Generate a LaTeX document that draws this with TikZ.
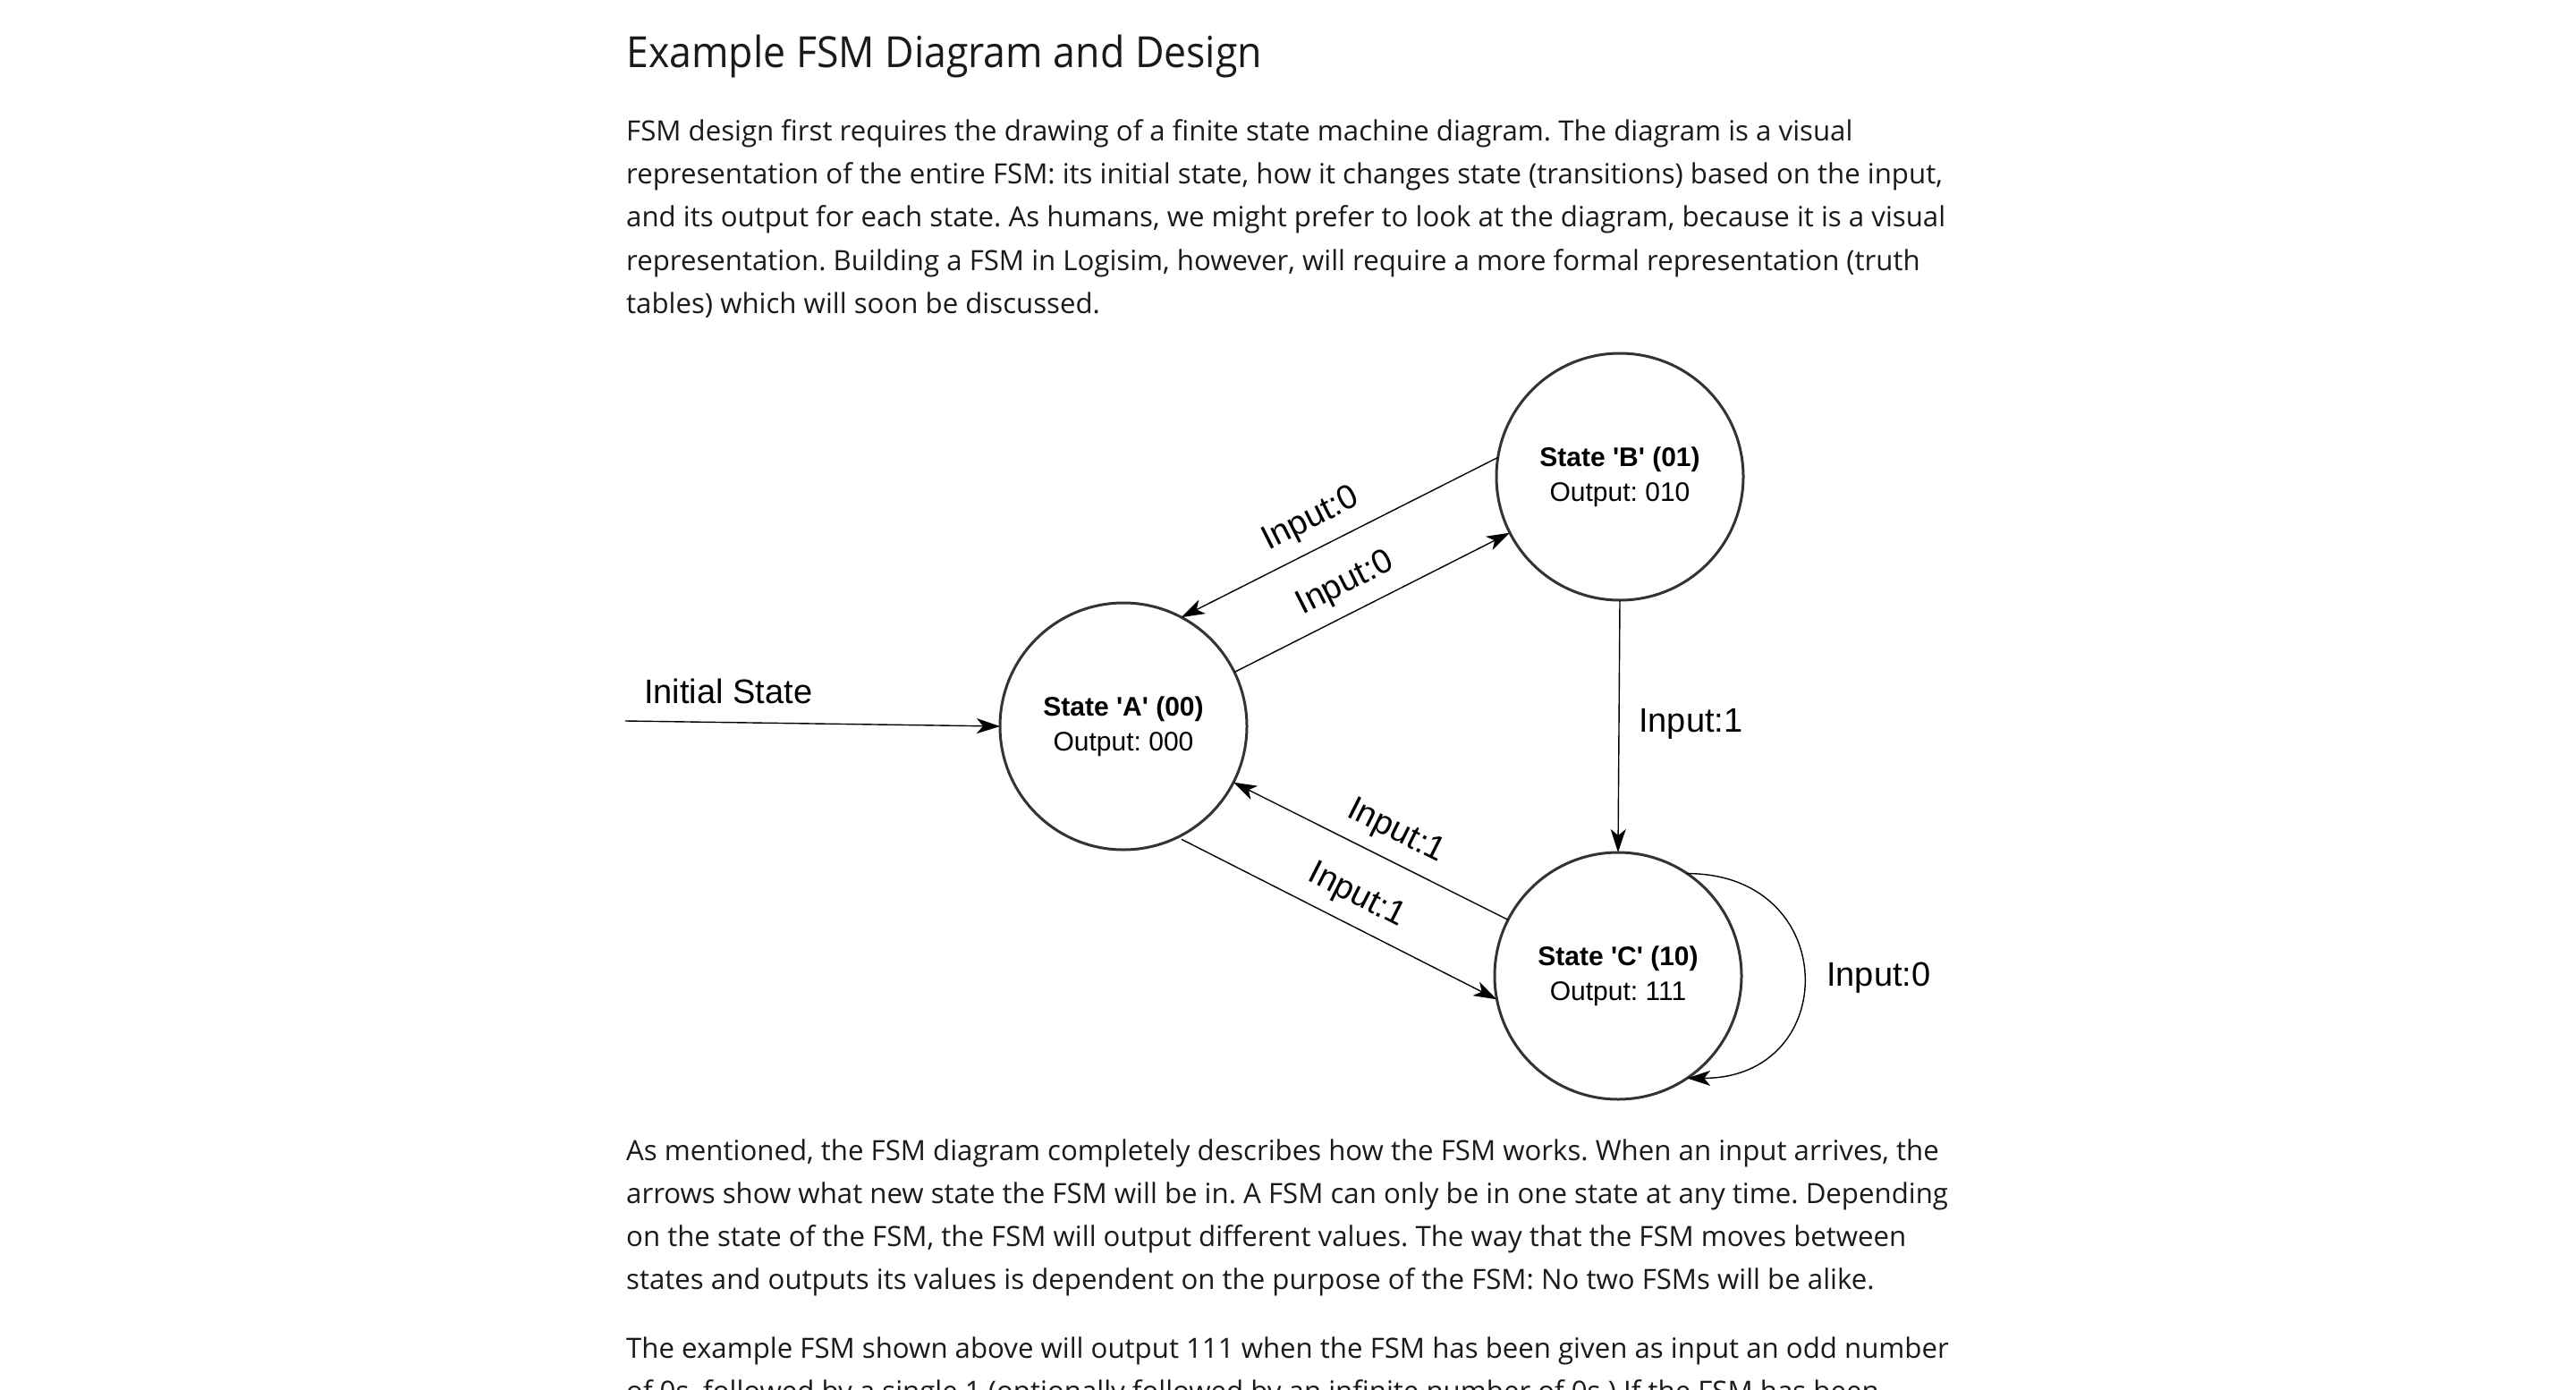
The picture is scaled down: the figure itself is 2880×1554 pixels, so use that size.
\documentclass[tikz,border=0pt]{standalone}
\usepackage{fontspec}
\setmainfont{Open Sans}
\newfontfamily\titlefont[FakeStretch=0.93]{Open Sans}
\newfontfamily\diafont[Ligatures=TeXOff]{Liberation Sans}
\usetikzlibrary{arrows.meta,calc}
\definecolor{txt}{HTML}{1A1A1A}
\definecolor{stroke}{HTML}{333333}
\frenchspacing
\begin{document}
\begin{tikzpicture}[x=1pt,y=-1pt,
  body/.style={anchor=base west, inner sep=0, font=\frenchspacing\fontsize{31.2}{36}\selectfont, text=txt},
  ttl/.style={anchor=base west, inner sep=0, font=\titlefont\fontsize{48}{56}\selectfont, text=txt},
  state/.style={circle, draw=stroke, line width=3pt, fill=white, minimum size=276pt, inner sep=0, outer sep=0, align=center, font=\frenchspacing\diafont\fontsize{30}{39}\selectfont},
  lbl/.style={font=\diafont\fontsize{38}{44}\selectfont, text=black},
  edge/.style={line width=1.4pt, -{Stealth[length=26pt,width=17pt,inset=7pt]}},
]
\fill[white] (0,0) rectangle (2880,1554);
\clip (0,0) rectangle (2880,1554);
\useasboundingbox (0,0) rectangle (2880,1554);

% text
\node[ttl] (title) at (700,76) {Example FSM Diagram and Design};
\node[body] (p1) at (700,158) {FSM design first requires the drawing of a finite state machine diagram. The diagram is a visual};
\node[body] (p2) at (700,206) {representation of the entire FSM: its initial state, how it changes state (transitions) based on the input,};
\node[body] (p3) at (700,254) {and its output for each state. As humans, we might prefer to look at the diagram, because it is a visual};
\node[body] (p4) at (700,302) {representation. Building a FSM in Logisim, however, will require a more formal representation (truth};
\node[body] (p5) at (700,350) {tables) which will soon be discussed.};
\node[body] (q1) at (700,1297) {As mentioned, the FSM diagram completely describes how the FSM works. When an input arrives, the};
\node[body] (q2) at (700,1345) {arrows show what new state the FSM will be in. A FSM can only be in one state at any time. Depending};
\node[body] (q3) at (700,1393) {on the state of the FSM, the FSM will output different values. The way that the FSM moves between};
\node[body] (q4) at (700,1441) {states and outputs its values is dependent on the purpose of the FSM: No two FSMs will be alike.};
\node[body] (r1) at (700,1518) {The example FSM shown above will output 111 when the FSM has been given as input an odd number};
\node[body] (r2) at (700,1566) {of 0s, followed by a single 1 (optionally followed by an infinite number of 0s.) If the FSM has been};

% states
\node[state] (A) at (1256,812) {\textbf{State 'A' (00)}\\Output: 000};
\node[state] (B) at (1811,533) {\textbf{State 'B' (01)}\\Output: 010};
\node[state] (C) at (1809,1091) {\textbf{State 'C' (10)}\\Output: 111};

% initial
\coordinate (init) at (699,806);
\draw[edge] (init) -- (A.west);
\node[lbl, anchor=base west, inner sep=0] (initlbl) at (720,786) {Initial State};

% transitions
\draw[edge] (B.171.3) -- node[pos=0.55, sloped, above, lbl, inner sep=14pt] (l1) {Input:0} (A.62.7);
\draw[edge] (A.26.4) -- node[pos=0.45, sloped, above, lbl, inner sep=14pt] (l2) {Input:0} (B.207.1);
\draw[edge] (B.south) -- (C.north);
\node[lbl, anchor=base west, inner sep=0] (l3) at (1832,818) {Input:1};
\draw[edge] (C.153.3) -- node[pos=0.455, sloped, above, lbl, inner sep=14pt] (l4) {Input:1} (A.-27.5);
\draw[edge, shorten <=5pt] (A.-64.1) -- node[pos=0.52, sloped, above, lbl, inner sep=14pt] (l5) {Input:1} (C.191);
\draw[edge] (C.56.3) .. controls +(173,0) and +(173,0) .. (C.-56.5);
\node[lbl, anchor=base west, inner sep=0] (l6) at (2042,1102) {Input:0};
\end{tikzpicture}
\end{document}
